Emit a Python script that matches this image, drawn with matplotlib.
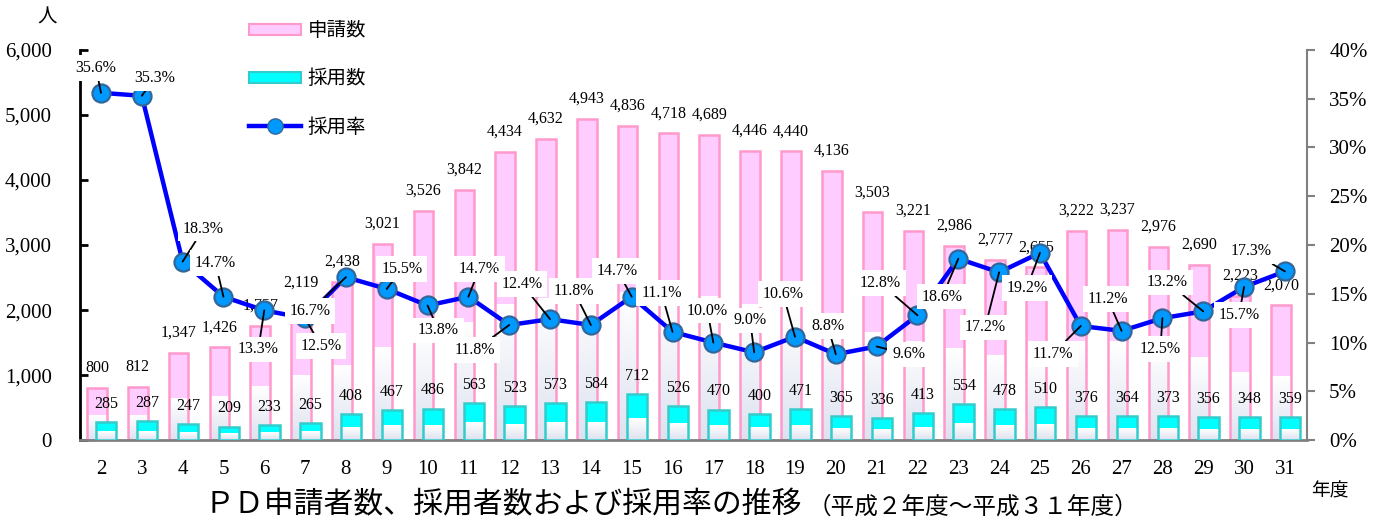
import numpy as np
import matplotlib.pyplot as plt
from matplotlib.colors import LinearSegmentedColormap
from matplotlib.patches import Patch
from matplotlib.lines import Line2D

plt.rcParams['font.family'] = ['Liberation Serif', 'Noto Sans CJK JP']

# data (平成 year)
years = list(range(2, 32))
applicants = [800, 812, 1347, 1426, 1757, 2119, 2438, 3021, 3526, 3842,
              4434, 4632, 4943, 4836, 4718, 4689, 4446, 4440, 4136, 3503,
              3221, 2986, 2777, 2655, 3222, 3237, 2976, 2690, 2223, 2070]
adopted = [285, 287, 247, 209, 233, 265, 408, 467, 486, 563,
           523, 573, 584, 712, 526, 470, 400, 471, 365, 336,
           413, 554, 478, 510, 376, 364, 373, 356, 348, 359]
rate = [35.6, 35.3, 18.3, 14.7, 13.3, 12.5, 16.7, 15.5, 13.8, 14.7,
        11.8, 12.4, 11.8, 14.7, 11.1, 10.0, 9.0, 10.6, 8.8, 9.6,
        12.8, 18.6, 17.2, 19.2, 11.7, 11.2, 12.5, 13.2, 15.7, 17.3]

# label offsets for the rate labels, in pixels (dx, dy down)
rate_off = [(-5, -25), (13, -18), (21, -33), (-8, -34), (-6, 39), (16, 28),
            (-36, 34), (15, -20), (11, 25), (11, -28), (-34, 25), (-28, -35),
            (-17, -34), (-14, -26), (-11, -39), (-6, -32), (-4, -32), (-12, -43),
            (-8, -28), (32, 8), (-37, -32), (-16, 38), (-14, 55), (-13, 35),
            (-28, 28), (-14, -32), (-2, 31), (-36, -29), (-5, 28), (-34, -20)]

PINK = '#ffccff'
PINK_EDGE = '#ff99cc'
CYAN = '#00ffff'
CYAN_EDGE = '#33cccc'

fig = plt.figure(figsize=(13.75, 5.19), dpi=100)
ax = fig.add_axes([0.058, 0.152, 0.8925, 0.7518])
ax2 = ax.twinx()

x = np.array(years, dtype=float)
grad = np.linspace(0, 1, 64).reshape(-1, 1)
cm_low = LinearSegmentedColormap.from_list('low', ['#dde2ef', '#ffffff'])


def draw_bars(xs, vals, width, face, edge, z):
    ax.bar(xs, vals, width, color=face, edgecolor='none', zorder=z)
    for xi, v in zip(xs, vals):
        ax.imshow(grad, extent=(xi - width / 2, xi + width / 2, 0, v * 0.47),
                  aspect='auto', cmap=cm_low, origin='lower', zorder=z + 0.1,
                  interpolation='bilinear')
    ax.bar(xs, vals, width, color='none', edgecolor=edge, linewidth=1.8, zorder=z + 0.2)


draw_bars(x - 0.1, applicants, 0.48, PINK, PINK_EDGE, 2)
draw_bars(x + 0.13, adopted, 0.5, CYAN, CYAN_EDGE, 3)

for xi, v in zip(x, applicants):
    ax.annotate(f'{v:,}', (xi - 0.1, v), xytext=(0, 14.5), textcoords='offset points',
                ha='center', va='center', fontsize=11.5, zorder=5)
for xi, v in zip(x, adopted):
    ax.annotate(f'{v:,}', (xi + 0.13, v), xytext=(0, 13), textcoords='offset points',
                ha='center', va='center', fontsize=11.5, zorder=5)

ax.set_xlim(1.48, 31.54)
ax.set_ylim(0, 6000)
ax.set_yticks(range(0, 6001, 1000))
ax.set_yticklabels([f'{v:,}' for v in range(0, 6001, 1000)], fontsize=15)
ax.set_xticks(years)
ax.set_xticklabels([str(y) for y in years], fontsize=15)
ax.tick_params(axis='x', length=0, pad=14)
ax.tick_params(axis='y', direction='in', length=6, width=2, pad=20)
ax.spines['top'].set_visible(False)
ax.spines['left'].set_linewidth(2)
ax.spines['bottom'].set_color('#808080')
ax.spines['bottom'].set_linewidth(2)
ax.spines['right'].set_visible(False)

# rate line
ax2.plot(x, rate, color='#0000ff', lw=3.2, marker='o', markersize=13,
         markerfacecolor='#0099ff', markeredgecolor='#336699', markeredgewidth=1.6,
         zorder=3)
ax2.set_ylim(0, 40)
ax2.set_yticks(range(0, 41, 5))
ax2.set_yticklabels([f'{v}%' for v in range(0, 41, 5)], fontsize=15)
ax2.tick_params(axis='y', direction='out', length=6, width=1.5, color='#808080', pad=10)
for s in ['top', 'left', 'bottom']:
    ax2.spines[s].set_visible(False)
ax2.spines['right'].set_color('#808080')
ax2.spines['right'].set_linewidth(1.5)

for xi, r, (dx, dy) in zip(x, rate, rate_off):
    ax2.annotate(f'{r:.1f}%', (xi, r), xytext=(dx * 0.72, -dy * 0.72),
                 textcoords='offset points', ha='center', va='center', fontsize=11.5,
                 bbox=dict(boxstyle='square,pad=0.3', fc='white', ec='none'),
                 arrowprops=dict(arrowstyle='-', color='black', lw=1.3,
                                 shrinkA=0, shrinkB=0),
                 zorder=6)

# legend
handles = [Patch(facecolor=PINK, edgecolor=PINK_EDGE, linewidth=1.5),
           Patch(facecolor=CYAN, edgecolor=CYAN_EDGE, linewidth=1.5),
           Line2D([], [], color='#0000ff', lw=3.2, marker='o', markersize=11,
                  markerfacecolor='#0099ff', markeredgecolor='#336699')]
fig.legend(handles, ['申請数', '採用数', '採用率'], loc='upper left',
           bbox_to_anchor=(0.168, 0.995), frameon=False,
           prop={'family': 'Noto Sans CJK JP', 'size': 14},
           handlelength=2.7, handleheight=0.5, labelspacing=1.4, handletextpad=0.35)

fig.text(47 / 1375, 1 - 17 / 519, '人', fontsize=14, family='Noto Sans CJK JP',
         ha='center', va='center')
fig.text(1330 / 1375, 1 - 491 / 519, '年度', fontsize=13.5, family='Noto Sans CJK JP',
         ha='center', va='center')
fig.text(205 / 1375, 1 - 505 / 519, 'ＰＤ申請者数、採用者数および採用率の推移',
         fontsize=21.5, family='Noto Sans CJK JP', ha='left', va='center')
fig.text(808 / 1375, 1 - 507 / 519, '（平成２年度～平成３１年度）',
         fontsize=17, family='Noto Sans CJK JP', ha='left', va='center')

fig.savefig('out.png', dpi=100)
